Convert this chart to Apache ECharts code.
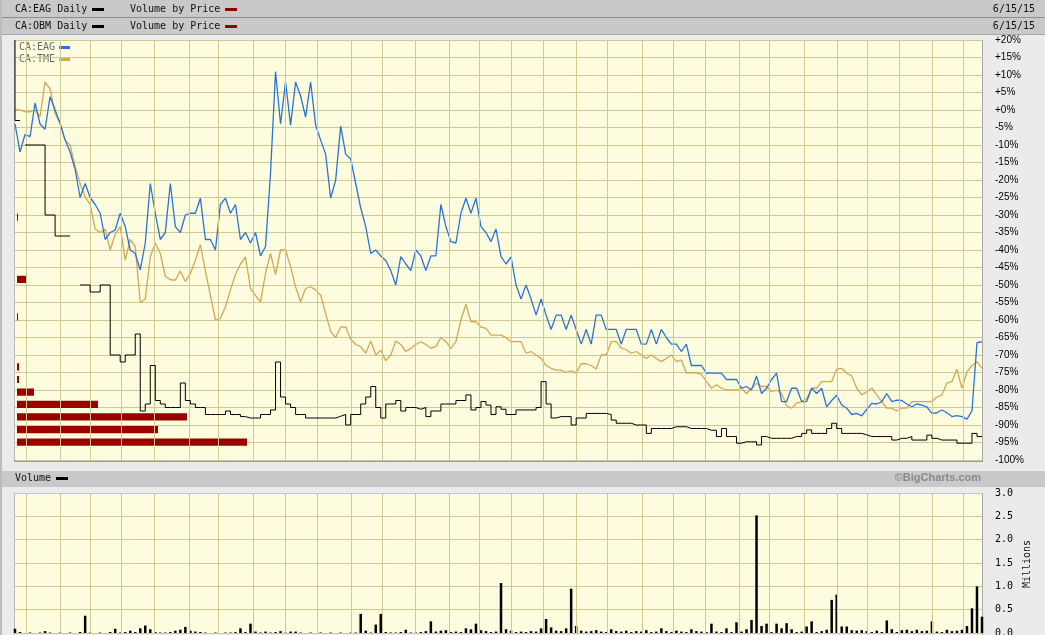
<!DOCTYPE html>
<html><head><meta charset="utf-8">
<script src="https://cdn.jsdelivr.net/npm/echarts/dist/echarts.min.js"></script>
<style>html,body{margin:0;padding:0;background:#ebebeb;overflow:hidden}#c{width:1045px;height:635px}</style>
</head><body><div id="c"></div>
<script>
// ---- data (one value per ~3 trading days) ----
const EAG = [
 -4, -12, -7, -7.6, 2, -4, -5.5, 3.8, 0, -3.8,
 -8.6, -12, -17, -25, -21, -25, -27, -29.5, -37, -35,
 -34.3, -29.5, -33.3, -40, -41, -45.7, -38, -21, -29.5, -37,
 -35, -21, -33.3, -35, -30, -29.5, -29.5, -25.2, -37, -37,
 -40, -27, -25.2, -29.5, -27, -37, -35, -38, -35, -41.7,
 -39, -18, 11, -4, 8, -4.3, 8, 4, -2, 8,
 -4.3, -8.6, -12.6, -25.2, -20, -4.6, -12.6, -14, -21, -28,
 -33.3, -41, -40, -41.7, -43, -45.9, -50, -41.9, -44, -45.9,
 -40, -41.7, -45.9, -41.7, -41.7, -27, -33.3, -37.6, -38, -29.5,
 -25.2, -29.5, -25.2, -33.3, -35, -37.6, -34, -41.9, -44, -42,
 -50, -54, -50, -54, -58.6, -54, -58.6, -62.7, -58.6, -58.6,
 -62.7, -58.6, -62.7, -66.9, -62.7, -66.9, -58.6, -58.6, -62.7, -62.7,
 -62.7, -66.9, -62.7, -62.7, -62.7, -66.9, -66.9, -62.7, -66.9, -62.7,
 -65, -66.9, -66.9, -69, -66.9, -73, -73, -73, -75.2, -75.2,
 -75.2, -75.2, -77, -77, -77, -79.5, -79, -80, -76, -81,
 -79.5, -77, -75.2, -83.3, -83.3, -79.5, -79.5, -83.3, -83.3, -79.5,
 -81, -79.5, -84.8, -83, -81.5, -84.3, -85.2, -87, -86.7, -87.4,
 -85.5, -83.8, -84, -83.3, -81, -83.3, -82.9, -83, -84, -84.8,
 -84, -84.3, -84.8, -86.7, -86.5, -85.7, -86.5, -87.6, -87.3, -87.6,
 -88.3, -86, -66.5, -66.2
];
const TME = [
 0, 0, -0.5, -0.5, 0, -1.9, 8, 6, -1, -3.8,
 -8.6, -10, -16.2, -21, -24.8, -27, -34, -35, -34, -40,
 -35.5, -33.3, -42.9, -37, -39, -55, -54, -42, -38, -41,
 -47.5, -48.5, -48.6, -46, -49, -46.7, -42.9, -38.5, -46, -53,
 -60, -59.5, -56.2, -51.4, -47, -44, -42, -51, -53, -54.8,
 -46.7, -41, -47, -40, -40, -44.8, -50.5, -54.8, -51, -50.5,
 -51.4, -52.9, -58.1, -63.3, -65, -62, -62, -65.5, -67, -67.6,
 -69.5, -66, -70, -68.6, -71.6, -70, -66, -67, -69, -68.1,
 -67, -66.2, -67, -68, -67.6, -65, -66.2, -68.1, -66.2, -60,
 -55.5, -60.5, -60.5, -62, -62.4, -64.3, -64.3, -64.3, -65, -66.2,
 -66.2, -66.2, -69.5, -69, -70, -71, -73, -73.8, -74.3, -74.3,
 -75, -74.5, -75.2, -72.5, -72.5, -73, -74, -70, -70, -66.2,
 -66.2, -68, -68.5, -69.5, -69, -70, -71, -70, -71, -71.9,
 -71, -70, -71.9, -71.4, -75.2, -75, -75.2, -75.5, -77.6, -79.5,
 -78.5, -79.5, -80, -80, -80, -79.5, -81, -79.5, -78.1, -79,
 -79, -80.5, -80, -81, -84.5, -85.2, -83.8, -83.3, -82.5, -79.5,
 -79.5, -77.6, -77.6, -77.6, -74, -73.8, -75.2, -76, -79.5, -81.4,
 -80.5, -79.5, -81.4, -83.3, -85.2, -85.2, -86, -85.2, -85.2, -83.3,
 -83.3, -83.3, -83.3, -83.3, -82, -81.4, -78, -77.6, -74.1, -79.5,
 -74.8, -73, -71.9, -73.8
];
const OBM = [
 20, -3, null, -10, -10, -10, -10, -30, -30, -36,
 -36, -36, null, null, -50, -50, -52, -52, -50, -50,
 -70, -70, -72, -70, -70, -64, -86, -84, -73, -83,
 -84, -85, -85, -85, -78, -83, -84, -85, -85, -87,
 -87, -87, -87, -86, -87, -87, -87.6, -88, -88, -88,
 -87, -87, -85.7, -72, -82, -84, -85, -87, -87, -88,
 -88, -88, -88, -88, -88, -87.5, -87, -90, -87, -87,
 -84, -82, -79, -85, -88, -84, -84, -83, -86, -85,
 -85, -85.5, -85, -87.6, -86, -86, -84, -84, -84, -83,
 -83, -81.4, -85.7, -85, -83.3, -84.3, -87, -84.8, -85.5, -87,
 -87, -85.7, -85.7, -85.7, -85.7, -85, -77.6, -84, -88, -87.6,
 -87.6, -87.6, -90, -88, -88, -86.7, -86.7, -86.7, -86.7, -87,
 -88.6, -89.5, -89.5, -89.5, -90, -90, -90, -92.4, -91, -91,
 -91, -91, -90.5, -90.5, -90.5, -91, -91, -91, -91, -91.5,
 -91.5, -93.3, -91, -93.3, -93.3, -95.2, -94.8, -94.8, -94.8, -95.7,
 -93.3, -93.8, -93.8, -93.8, -93.8, -93.8, -93.3, -93.3, -92.4, -91.4,
 -92.4, -92.4, -92.4, -91, -89.5, -91, -92.4, -92.4, -92.4, -92.4,
 -92.8, -93.3, -93.3, -93.3, -93.3, -93.3, -94.3, -93.8, -93.8, -93.3,
 -94.3, -94.3, -94.3, -92.9, -93.8, -94.3, -94.3, -94.3, -94.3, -95.2,
 -95.2, -95.2, -92.4, -93.3
];
// volume, millions
const VOLUME = [
 0.09, 0.02, 0, 0.01, 0, 0.01, 0.04, 0.01, 0, 0.01,
 0, 0.01, 0, 0.02, 0.37, 0.01, 0, 0.01, 0, 0.02,
 0.09, 0.01, 0.02, 0.05, 0.02, 0.1, 0.16, 0.08, 0.02, 0.01,
 0.01, 0.02, 0.05, 0.07, 0.13, 0.05, 0.03, 0.02, 0.01, 0,
 0.01, 0, 0.01, 0.01, 0.02, 0.1, 0.02, 0.2, 0.03, 0.01,
 0.03, 0.01, 0.02, 0.04, 0.01, 0.03, 0.03, 0.01, 0, 0.01,
 0, 0.01, 0, 0.01, 0, 0.01, 0, 0.01, 0.01, 0.41,
 0.05, 0.01, 0.18, 0.41, 0.02, 0.01, 0.01, 0.02, 0.07, 0.01,
 0.01, 0.02, 0.04, 0.25, 0.03, 0.05, 0.06, 0.02, 0.03, 0.02,
 0.1, 0.08, 0.2, 0.06, 0.04, 0.02, 0.03, 1.07, 0.08, 0.05,
 0.02, 0.03, 0.02, 0.04, 0.03, 0.1, 0.3, 0.12, 0.05, 0.04,
 0.1, 0.95, 0.15, 0.05, 0.03, 0.04, 0.06, 0.03, 0.02, 0.08,
 0.04, 0.03, 0.05, 0.02, 0.04, 0.03, 0.06, 0.02, 0.03, 0.1,
 0.04, 0.02, 0.05, 0.03, 0.02, 0.08, 0.04, 0.03, 0.02, 0.2,
 0.03, 0.02, 0.1, 0.02, 0.23, 0.03, 0.08, 0.28, 2.52, 0.15,
 0.2, 0.02, 0.2, 0.1, 0.21, 0.08, 0.02, 0.03, 0.14, 0.25,
 0.02, 0.04, 0.07, 0.71, 0.82, 0.14, 0.14, 0.06, 0.05, 0.06,
 0.04, 0.02, 0.05, 0.02, 0.27, 0.08, 0.02, 0.06, 0.07, 0.04,
 0.07, 0.04, 0.05, 0.25, 0.03, 0.02, 0.07, 0.04, 0.05, 0.07,
 0.15, 0.53, 1.0, 0.35
];
// volume by price (OBM): price bucket centre (% change) and relative volume
const VBP_PRICE = [-94.9, -91.3, -87.7, -84.1, -80.6, -77.0, -73.4, -59.1, -48.4, -30.6];
const VBP_VOL   = [230, 141, 170, 81, 17, 2, 2, 1, 9, 1];
const VBP_BUCKET = 3.57;
const VBP_AXIS_MAX = 967;
// month boundaries, in sample-index units
const MONTH_TICKS = [2.2, 9.0, 15.0, 21.2, 27.7, 34.7, 40.5, 47.5, 53.9, 60.3, 67.1, 73.3, 79.8, 86.6, 92.6,
  99.0, 105.4, 112.0, 118.2, 125.1, 131.3, 137.7, 144.5, 150.5, 157.5, 164.1, 170.1, 176.4, 183.0, 189.2];
const PCT_TICKS = {min: -100, max: 20, step: 5};
const VOL_TICKS = {min: 0, max: 3, step: 0.5};

// ---- styling ----
const GRID_C = '#cfca94', BG = '#fefcdf', BAR = '#c9c9c9';
const MONO = 'DejaVu Sans Mono';
const N = EAG.length;
const xy = a => a.map((v, i) => [i, v]);
const vLines = () => ({
  silent: true, symbol: ['none', 'none'], label: {show: false}, animation: false,
  lineStyle: {color: GRID_C, width: 1, type: 'solid'}, emphasis: {disabled: true},
  data: MONTH_TICKS.map(t => ({xAxis: t}))
});
const txt = (x, y, text, extra) => ({type: 'text', x, y, silent: true,
  style: Object.assign({text, font: '10px ' + MONO, fill: '#111', textAlign: 'left', textVerticalAlign: 'middle'}, extra || {})});
const box = (x, y, w, h, fill) => ({type: 'rect', silent: true, shape: {x, y, width: w, height: h}, style: {fill}});

const chart = echarts.init(document.getElementById('c'), null, {renderer: 'canvas'});
chart.setOption({
  animation: false,
  backgroundColor: '#ebebeb',
  grid: [
    {left: 15, right: 63, top: 40, height: 420, show: true, backgroundColor: BG, borderWidth: 0, containLabel: false, outerBoundsMode: 'none'},
    {left: 15, right: 63, top: 493, height: 140, show: true, backgroundColor: BG, borderWidth: 0, containLabel: false, outerBoundsMode: 'none'}
  ],
  xAxis: [
    {type: 'value', gridIndex: 0, min: 0, max: N - 1, show: false},
    {type: 'value', gridIndex: 0, min: 0, max: VBP_AXIS_MAX, show: false},
    {type: 'value', gridIndex: 1, min: 0, max: N - 1, show: false}
  ],
  yAxis: [
    {type: 'value', gridIndex: 0, position: 'right', min: PCT_TICKS.min, max: PCT_TICKS.max, interval: PCT_TICKS.step,
      axisLine: {show: false}, axisTick: {show: false},
      splitLine: {show: true, lineStyle: {color: GRID_C, width: 1}},
      axisLabel: {margin: 13, color: '#000', fontFamily: 'Liberation Sans', fontSize: 10,
        formatter: v => (v >= 0 ? '+' : '') + v + '%'}},
    {type: 'value', gridIndex: 1, position: 'right', min: VOL_TICKS.min, max: VOL_TICKS.max, interval: VOL_TICKS.step,
      axisLine: {show: false}, axisTick: {show: false},
      splitLine: {show: true, lineStyle: {color: GRID_C, width: 1}},
      axisLabel: {margin: 13, color: '#000', fontFamily: MONO, fontSize: 10, formatter: v => v.toFixed(1)}}
  ],
  series: [
    {type: 'line', xAxisIndex: 0, yAxisIndex: 0, data: [[0, PCT_TICKS.min]], symbol: 'none', silent: true, z: 1,
      lineStyle: {opacity: 0}, markLine: vLines()},
    {type: 'line', xAxisIndex: 2, yAxisIndex: 1, data: [[0, 0]], symbol: 'none', silent: true, z: 1,
      lineStyle: {opacity: 0}, markLine: vLines()},
    {type: 'custom', name: 'Volume by Price', xAxisIndex: 1, yAxisIndex: 0, z: 2, silent: true,
      data: VBP_PRICE.map((p, k) => [VBP_VOL[k], p]),
      renderItem: (params, api) => {
        const p0 = api.coord([0, api.value(1)]);
        const p1 = api.coord([api.value(0), api.value(1)]);
        const h = api.size([0, VBP_BUCKET])[1] * 0.58;
        return {type: 'rect', shape: {x: p0[0] + 2, y: p0[1] - h / 2, width: p1[0] - p0[0], height: h},
          style: {fill: '#990000'}};
      }},
    {type: 'line', name: 'CA:TME', xAxisIndex: 0, yAxisIndex: 0, data: xy(TME), symbol: 'none', z: 3,
      lineStyle: {color: '#d7a653', width: 1.3}},
    {type: 'line', name: 'CA:EAG', xAxisIndex: 0, yAxisIndex: 0, data: xy(EAG), symbol: 'none', z: 4,
      lineStyle: {color: '#2a73d9', width: 1.3}},
    {type: 'line', name: 'CA:OBM', xAxisIndex: 0, yAxisIndex: 0, data: xy(OBM), symbol: 'none', z: 5,
      step: 'start', connectNulls: false, lineStyle: {color: '#000', width: 1}},
    {type: 'bar', name: 'Volume', xAxisIndex: 2, yAxisIndex: 1, data: xy(VOLUME), barWidth: 2.5, z: 3,
      itemStyle: {color: '#000'}}
  ],
  graphic: [
    box(0, 0, 1045, 17, BAR), box(0, 17, 1045, 1, '#8e8e8e'),
    box(0, 18, 1045, 16, BAR), box(0, 34, 1045, 1, '#a5a5a5'),
    box(0, 471, 1045, 16, BAR),
    box(0, 0, 2, 635, '#bcbcbc'),
    txt(15, 9, 'CA:EAG Daily'), box(92, 8, 12, 3, '#000'),
    txt(130, 9, 'Volume by Price'), box(225, 8, 12, 3, '#8b0000'),
    txt(1035, 9, '6/15/15', {textAlign: 'right'}),
    txt(15, 26, 'CA:OBM Daily'), box(92, 25, 12, 3, '#000'),
    txt(130, 26, 'Volume by Price'), box(225, 25, 12, 3, '#8b0000'),
    txt(1035, 26, '6/15/15', {textAlign: 'right'}),
    txt(19, 47, 'CA:EAG', {fill: '#6a6a6a'}), box(59, 46, 11, 3, '#2a73d9'),
    txt(19, 59, 'CA:TME', {fill: '#6a6a6a'}), box(59, 58, 11, 3, '#d7a653'),
    txt(15, 478, 'Volume'), box(56, 477, 12, 3, '#000'),
    txt(981, 478, '\u00a9BigCharts.com', {textAlign: 'right', font: 'bold 11px Liberation Sans', fill: '#8a8a8a'}),
    {type: 'text', x: 1027, y: 564, rotation: Math.PI / 2, silent: true,
      style: {text: 'Millions', font: '10px ' + MONO, fill: '#111', textAlign: 'center', textVerticalAlign: 'middle'}},
    box(14, 40, 1, 422, '#b8b8b8'), box(982, 40, 1, 422, '#a8a8a8'), box(14, 460, 969, 2, '#9d9d86'),
    box(14, 493, 1, 142, '#b8b8b8'), box(982, 493, 1, 142, '#a8a8a8')
  ]
});
</script></body></html>
